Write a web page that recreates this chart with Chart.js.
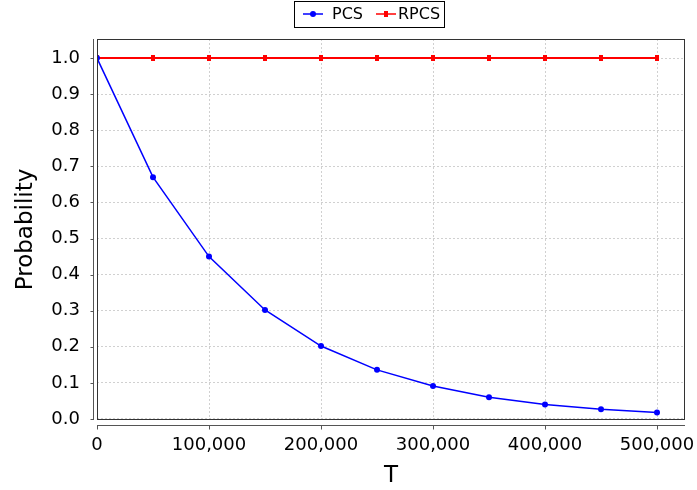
<!DOCTYPE html>
<html>
<head>
<meta charset="utf-8">
<script src="https://cdn.jsdelivr.net/npm/chart.js@4/dist/chart.umd.min.js"></script>
<style>
  html, body { margin: 0; padding: 0; background: #fff; }
</style>
</head>
<body>
<canvas id="prob-chart" width="697" height="490"></canvas>
<script>
"use strict"

// data
const tValues = [0, 50000, 100000, 150000, 200000, 250000, 300000, 350000, 400000, 450000, 500000]
const pcsValues = [1.0, 0.67, 0.45, 0.302, 0.202, 0.136, 0.091, 0.06, 0.04, 0.027, 0.018]
const rpcsValues = [1.0, 1.0, 1.0, 1.0, 1.0, 1.0, 1.0, 1.0, 1.0, 1.0, 1.0]
const xTicks = [0, 100000, 200000, 300000, 400000, 500000]
const yTicks = [0, 0.1, 0.2, 0.3, 0.4, 0.5, 0.6, 0.7, 0.8, 0.9, 1.0]
const seriesNames = ["PCS", "RPCS"]
const seriesColors = ["#0000ff", "#ff0000"]

const FONT = "'DejaVu Sans', sans-serif"
const canvas = document.getElementById("prob-chart")

// small upright red box used as the RPCS marker
const rectMarker = document.createElement("canvas")
rectMarker.width = 4
rectMarker.height = 6
const mctx = rectMarker.getContext("2d")
mctx.fillStyle = seriesColors[1]
mctx.fillRect(0, 0, 4, 6)

// JFreeChart-ish frame: plot border, offset axis lines with tick marks, boxed legend
const framePlugin = {
  id: "frame",
  afterDraw(chart) {
    const ctx = chart.ctx
    const a = chart.chartArea
    const xs = chart.scales.x
    const ys = chart.scales.y
    ctx.save()
    ctx.lineWidth = 1
    ctx.strokeStyle = "#333"
    ctx.strokeRect(Math.round(a.left) + 0.5, Math.round(a.top) + 0.5,
      Math.round(a.right - a.left) - 1, Math.round(a.bottom - a.top) - 1)

    // axis lines offset from the plot
    ctx.strokeStyle = "#555"
    const axX = Math.round(a.left) - 4 + 0.5
    const axY = Math.round(a.bottom) + 5 + 0.5
    ctx.beginPath()
    ctx.moveTo(axX, a.top)
    ctx.lineTo(axX, a.bottom)
    ctx.moveTo(a.left, axY)
    ctx.lineTo(a.right, axY)
    yTicks.forEach((v) => {
      const y = Math.round(ys.getPixelForValue(v)) + 0.5
      ctx.moveTo(axX - 3, y)
      ctx.lineTo(axX, y)
    })
    xTicks.forEach((v) => {
      const x = Math.round(xs.getPixelForValue(v)) + 0.5
      ctx.moveTo(x, axY)
      ctx.lineTo(x, axY + 4)
    })
    ctx.stroke()

    // legend
    const boxL = 294, boxT = 1.5, boxW = 150, boxH = 26
    ctx.strokeStyle = "#000"
    ctx.strokeRect(boxL + 0.5, boxT, boxW, boxH)
    const midY = 14
    const items = [
      { x: 303, textX: 332 },
      { x: 376, textX: 398 },
    ]
    ctx.font = "16px " + FONT
    ctx.textBaseline = "middle"
    ctx.textAlign = "left"
    items.forEach((it, i) => {
      ctx.strokeStyle = seriesColors[i]
      ctx.fillStyle = seriesColors[i]
      ctx.lineWidth = 1.5
      ctx.beginPath()
      ctx.moveTo(it.x, midY)
      ctx.lineTo(it.x + 20, midY)
      ctx.stroke()
      if (i === 0) {
        ctx.beginPath()
        ctx.arc(it.x + 10, midY, 3, 0, Math.PI * 2)
        ctx.fill()
      } else {
        ctx.drawImage(rectMarker, it.x + 8, midY - 3)
      }
      ctx.fillStyle = "#000"
      ctx.fillText(seriesNames[i], it.textX, midY + 1)
    })
    ctx.restore()
  },
}

const probData = {
  datasets: [
    {
      label: seriesNames[0],
      data: tValues.map((t, i) => ({ x: t, y: pcsValues[i] })),
      borderColor: seriesColors[0],
      backgroundColor: seriesColors[0],
      borderWidth: 1.5,
      pointStyle: "circle",
      pointRadius: 3,
      pointBorderWidth: 0,
      tension: 0,
    },
    {
      label: seriesNames[1],
      data: tValues.map((t, i) => ({ x: t, y: rpcsValues[i] })),
      borderColor: seriesColors[1],
      backgroundColor: seriesColors[1],
      borderWidth: 2,
      pointStyle: rectMarker,
      tension: 0,
    },
  ],
}

const probOptions = {
  responsive: false,
  animation: false,
  layout: {
    padding: { top: 39, right: 12, left: 0, bottom: 0 },
  },
  scales: {
    x: {
      type: "linear",
      min: 0,
      max: 525000,
      afterBuildTicks: (scale) => {
        scale.ticks = xTicks.map((v) => ({ value: v }))
      },
      afterFit: (scale) => {
        scale.height = 70
        scale.paddingLeft = 0
        scale.paddingRight = 0
      },
      ticks: {
        autoSkip: false,
        maxRotation: 0,
        padding: 15,
        color: "#000",
        font: { family: FONT, size: 18 },
        callback: (v) => Number(v).toLocaleString("en-US"),
      },
      grid: { color: "#d0d0d0", drawTicks: false },
      border: { display: false, dash: [2, 2] },
      title: {
        display: true,
        text: "T",
        color: "#000",
        font: { family: FONT, size: 23 },
        padding: 0,
      },
    },
    y: {
      type: "linear",
      min: -0.003,
      max: 1.053,
      afterBuildTicks: (scale) => {
        scale.ticks = yTicks.map((v) => ({ value: v }))
      },
      afterFit: (scale) => {
        scale.width = 97
        scale.paddingTop = 0
        scale.paddingBottom = 0
      },
      ticks: {
        padding: 17,
        color: "#000",
        font: { family: FONT, size: 18 },
        callback: (v) => Number(v).toFixed(1),
      },
      grid: { color: "#d0d0d0", drawTicks: false },
      border: { display: false, dash: [2, 2] },
      title: {
        display: true,
        text: "Probability",
        color: "#000",
        font: { family: FONT, size: 23 },
        padding: { top: 12, bottom: 0 },
      },
    },
  },
  plugins: {
    legend: { display: false },
    tooltip: { enabled: false },
  },
}

const probChart = new Chart(canvas, {
  type: "line",
  data: probData,
  options: probOptions,
  plugins: [framePlugin],
})
</script>
</body>
</html>
